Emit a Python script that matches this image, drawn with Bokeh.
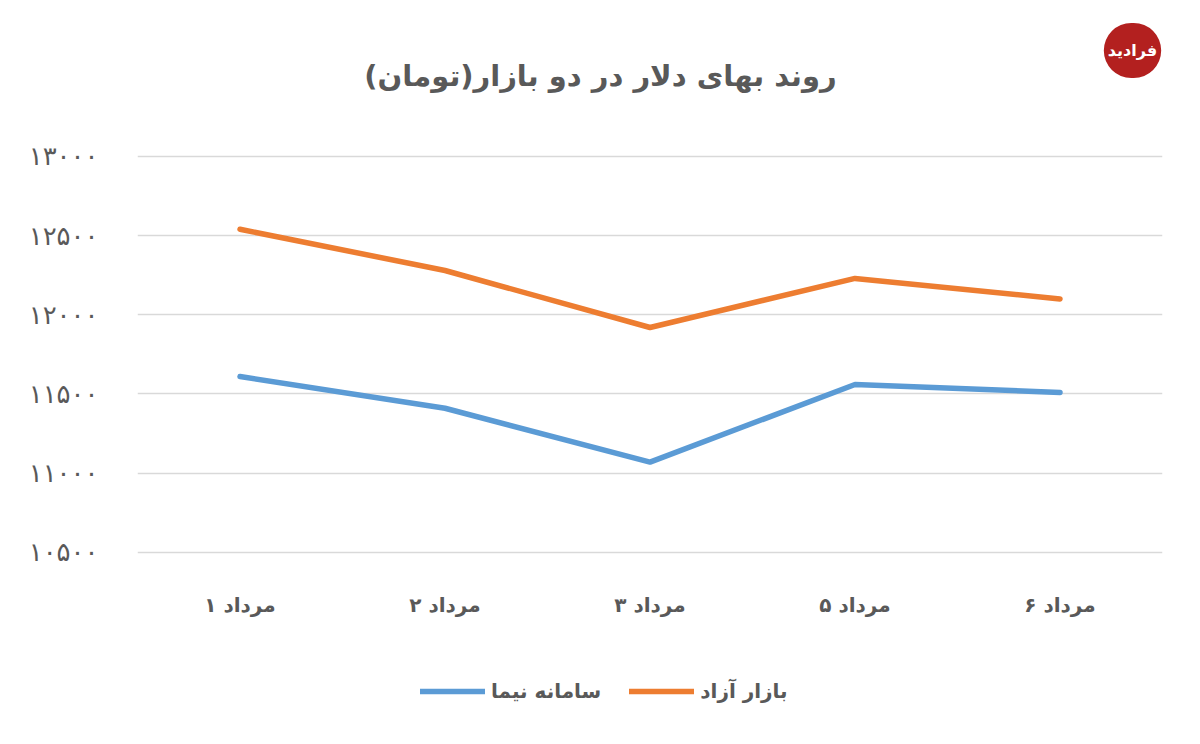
from bokeh.plotting import figure
from bokeh.layouts import column
from bokeh.models import Range1d, FactorRange, FixedTicker, Legend, LegendItem, Label
from bokeh.embed import file_html
from bokeh.resources import INLINE

# ---- data ----
categories = ["۱ مرداد", "۲ مرداد", "۳ مرداد", "۵ مرداد", "۶ مرداد"]
free_market = [12540, 12280, 11920, 12230, 12100]   # بازار آزاد
nima = [11610, 11410, 11070, 11560, 11510]          # سامانه نیما
y_ticks = [10500, 11000, 11500, 12000, 12500, 13000]
y_tick_labels = ["۱۰۵۰۰", "۱۱۰۰۰", "۱۱۵۰۰", "۱۲۰۰۰", "۱۲۵۰۰", "۱۳۰۰۰"]
series_names = ["سامانه نیما", "بازار آزاد"]
title_text = "روند بهای دلار در دو بازار(تومان)"
logo_text = "فرادید"

FONT = "DejaVu Sans"
GRAY = "#595959"
ORANGE = "#ED7D31"
BLUE = "#5B9BD5"

# main chart: frame reaches the top so the title and logo can sit inside it
p = figure(width=1184, height=650, x_range=FactorRange(*categories),
           y_range=Range1d(10480, 13985), output_backend="svg",
           toolbar_location=None, title=None,
           min_border_left=137, min_border_right=22,
           min_border_top=0, min_border_bottom=95)
p.background_fill_color = "white"
p.border_fill_color = "white"
p.outline_line_color = None

p.yaxis.ticker = FixedTicker(ticks=y_ticks)
p.yaxis.major_label_overrides = {v: s for v, s in zip(y_ticks, y_tick_labels)}
p.yaxis.axis_line_color = None
p.yaxis.major_tick_line_color = None
p.yaxis.minor_tick_line_color = None
p.yaxis.major_label_standoff = 33
p.yaxis.major_label_text_font = FONT
p.yaxis.major_label_text_font_size = "26px"
p.yaxis.major_label_text_color = GRAY

p.xaxis.axis_line_color = None
p.xaxis.major_tick_line_color = None
p.xaxis.minor_tick_line_color = None
p.xaxis.major_label_standoff = 31
p.xaxis.major_label_text_font = FONT
p.xaxis.major_label_text_font_size = "20px"
p.xaxis.major_label_text_font_style = "bold"
p.xaxis.major_label_text_color = GRAY

p.xgrid.grid_line_color = None
p.ygrid.grid_line_color = "#d9d9d9"
p.ygrid.grid_line_width = 1.5

p.line(categories, nima, line_color=BLUE, line_width=5.5, line_cap="round", line_join="round")
p.line(categories, free_market, line_color=ORANGE, line_width=5.5, line_cap="round", line_join="round")

title = Label(x=463, y=480, x_units="screen", y_units="screen", text=title_text,
              text_font=FONT, text_font_size="29px", text_font_style="bold",
              text_color=GRAY, text_align="center", text_baseline="middle")
p.add_layout(title)

logo = Label(x=995, y=505, x_units="screen", y_units="screen", text=logo_text,
             text_font=FONT, text_font_size="16px", text_font_style="bold",
             text_color="white", text_align="center", text_baseline="middle",
             background_fill_color="#B3201F", padding=(4, 18), border_radius=28)
p.add_layout(logo)

# legend strip below the chart
p2 = figure(width=1184, height=90, x_range=FactorRange(*categories),
            y_range=Range1d(0, 1), output_backend="svg", toolbar_location=None,
            x_axis_type=None, y_axis_type=None,
            min_border_left=0, min_border_right=0, min_border_top=0, min_border_bottom=0)
p2.background_fill_color = "white"
p2.border_fill_color = "white"
p2.outline_line_color = None
p2.grid.grid_line_color = None
l_nima = p2.line(categories, nima, line_color=BLUE, line_width=5.5, line_cap="round")
l_free = p2.line(categories, free_market, line_color=ORANGE, line_width=5.5, line_cap="round")

legend = Legend(items=[LegendItem(label=series_names[0], renderers=[l_nima]),
                       LegendItem(label=series_names[1], renderers=[l_free])],
                location=(283, 37), orientation="horizontal",
                label_text_font=FONT, label_text_font_size="20px",
                label_text_color=GRAY, label_text_font_style="bold",
                glyph_width=65, glyph_height=22, label_standoff=6, spacing=28,
                padding=0, border_line_color=None, background_fill_alpha=0)
p2.add_layout(legend, "center")

open("out.html", "w").write(file_html(column(p, p2, spacing=0), INLINE))
